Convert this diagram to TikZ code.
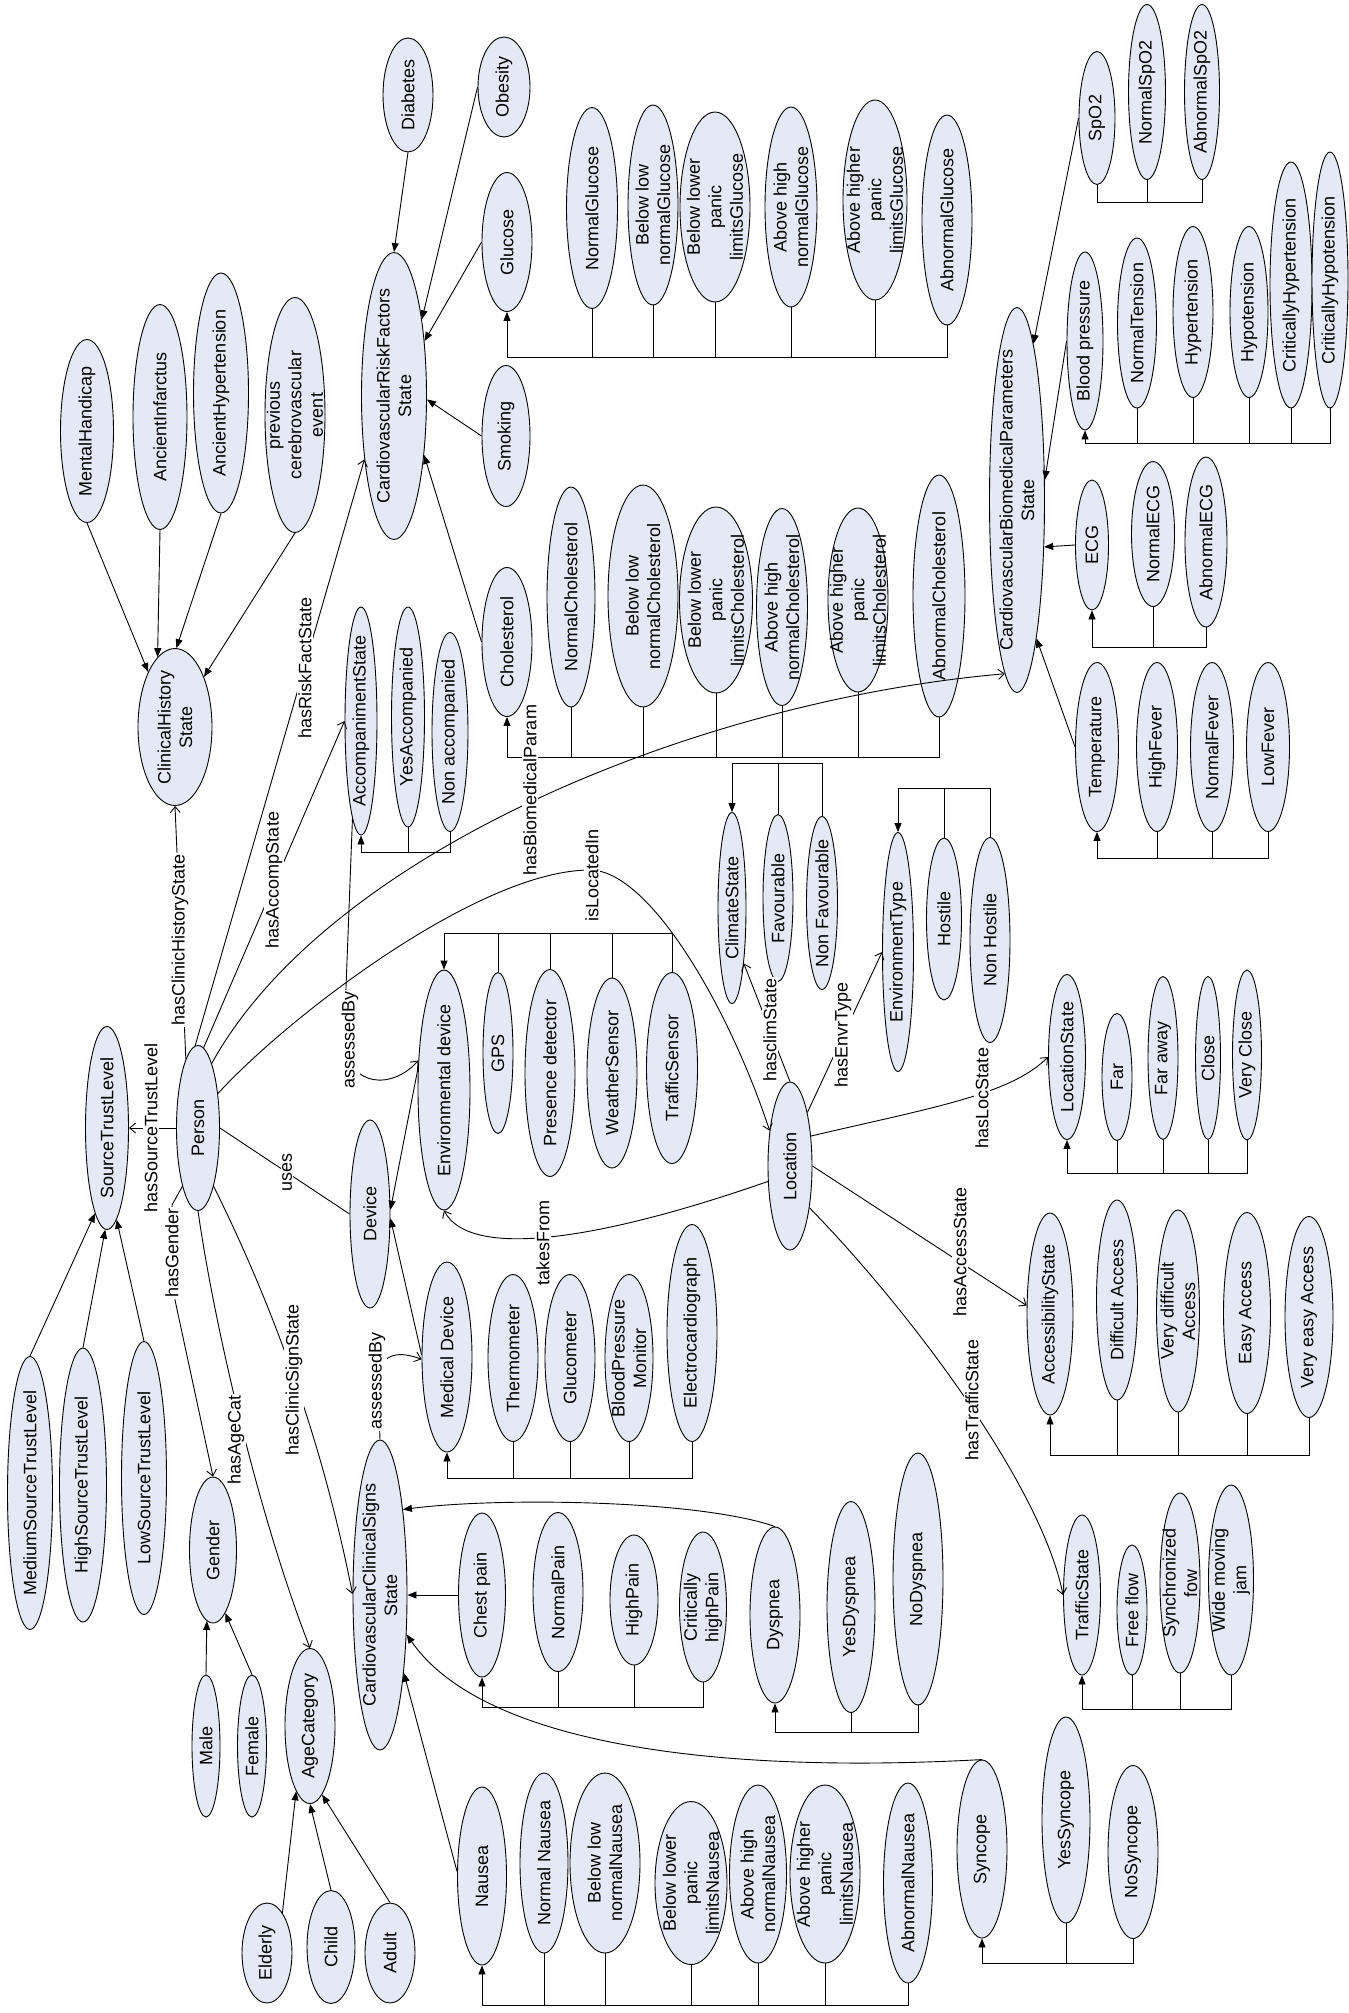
\documentclass[tikz,border=0pt]{standalone}
\usepackage{fontspec}
\setmainfont{Liberation Sans}
\usetikzlibrary{arrows.meta,shapes.geometric,calc}
\definecolor{nfill}{RGB}{228,233,245}
\newcommand\mkel[6]{\node[elp,minimum width=#4pt,minimum height=#5pt](#1) at (#2,#3){};\node[txt] at (#2,#3){#6};}
\begin{document}
\begin{tikzpicture}[x=1pt,y=-1pt,line width=0.9pt,
  elp/.style={ellipse,draw,fill=nfill,inner sep=0pt},
  txt/.style={rotate=90,align=center,inner sep=0pt,font=\fontsize{18}{21.5}\selectfont},
  lab/.style={rotate=90,fill=white,inner sep=1.2pt,font=\fontsize{18}{21.5}\selectfont},
  tri/.style={-{Triangle[length=9pt,width=7pt]}},
  opn/.style={-{Straight Barb[length=6pt,width=10pt]}}]
\fill[white] (0,0) rectangle (1349,2013);
\useasboundingbox (0,0) rectangle (1349,2013);
% ---------- nodes ----------
\mkel{crf}{394}{396}{65}{287}{CardiovascularRiskFactors\\State}
\mkel{dia}{408}{95}{50}{114}{Diabetes}
\mkel{mh}{87}{431}{53}{183}{MentalHandicap}
\mkel{ai}{160}{417}{54}{225}{AncientInfarctus}
\mkel{ah}{221}{393}{55}{240}{AncientHypertension}
\mkel{pce}{295}{415}{60}{235}{previous\\cerebrovascular\\event}
\mkel{chs}{175}{727}{74}{157}{ClinicalHistory\\State}
\mkel{obe}{504}{87}{52}{100}{Obesity}
\mkel{glu}{507}{242}{50}{139}{Glucose}
\mkel{smo}{506}{436}{48}{141}{Smoking}
\mkel{nglu}{592}{208}{51}{201}{NormalGlucose}
\mkel{blglu}{653}{205}{50}{200}{Below low\\normalGlucose}
\mkel{blpglu}{715}{207}{70}{190}{Below lower\\panic\\limitsGlucose}
\mkel{ahglu}{791}{207}{52}{200}{Above high\\normalGlucose}
\mkel{ahpglu}{875}{200}{64}{200}{Above higher\\panic\\limitsGlucose}
\mkel{aglu}{947}{220}{50}{210}{AbnormalGlucose}
\mkel{spo}{1097}{118}{36}{133}{SpO2}
\mkel{nspo}{1147}{92}{37}{175}{NormalSpO2}
\mkel{aspo}{1202}{92}{35}{175}{AbnormalSpO2}
\mkel{cbp}{1017}{500}{55}{385}{CardiovascularBiomedicalParameters\\State}
\mkel{bp}{1085}{341}{36}{178}{Blood pressure}
\mkel{nten}{1137}{323}{39}{170}{NormalTension}
\mkel{hyper}{1193}{312}{40}{171}{Hypertension}
\mkel{hypo}{1249}{312}{38}{171}{Hypotension}
\mkel{chyper}{1291}{285}{42}{246}{CriticallyHypertension}
\mkel{chypo}{1330}{280}{36}{256}{CriticallyHypotension}
\mkel{ecg}{1092}{545}{33}{130}{ECG}
\mkel{necg}{1153}{534}{43}{145}{NormalECG}
\mkel{aecg}{1206}{542}{42}{170}{AbnormalECG}
\mkel{temp}{1097}{747}{43}{169}{Temperature}
\mkel{hf}{1157}{747}{41}{169}{HighFever}
\mkel{nf}{1212}{747}{43}{169}{NormalFever}
\mkel{lf}{1268}{747}{43}{169}{LowFever}
\mkel{chol}{507}{642}{50}{149}{Cholesterol}
\mkel{nchol}{571}{597}{48}{220}{NormalCholesterol}
\mkel{blchol}{643}{596}{70}{222}{Below low\\normalCholesterol}
\mkel{blpchol}{716}{600}{73}{186}{Below lower\\panic\\limitsCholesterol}
\mkel{ahchol}{782}{607}{51}{197}{Above high\\normalCholesterol}
\mkel{ahpchol}{858}{600}{60}{184}{Above higher\\panic\\limitsCholesterol}
\mkel{achol}{939}{596}{52}{242}{AbnormalCholesterol}
\mkel{acc}{361}{721}{32}{228}{AccompanimentState}
\mkel{yacc}{408}{717}{33}{220}{YesAccompanied}
\mkel{nacc}{450}{732}{36}{199}{Non accompanied}
\mkel{clim}{732}{908}{28}{191}{ClimateState}
\mkel{fav}{778}{898}{30}{167}{Favourable}
\mkel{nfav}{822}{903}{31}{173}{Non Favourable}
\mkel{envt}{898}{952}{31}{239}{EnvironmentType}
\mkel{host}{944}{919}{35}{162}{Hostile}
\mkel{nhost}{990}{940}{40}{205}{Non Hostile}
\mkel{envd}{444}{1090}{52}{240}{Environmental device}
\mkel{gps}{498}{1053}{30}{161}{GPS}
\mkel{pres}{550}{1073}{50}{207}{Presence detector}
\mkel{wsen}{612}{1073}{50}{190}{WeatherSensor}
\mkel{tsen}{672}{1068}{51}{191}{TrafficSensor}
\mkel{loc}{790}{1166}{44}{168}{Location}
\mkel{md}{447}{1357}{50}{190}{Medical Device}
\mkel{therm}{513}{1358}{50}{167}{Thermometer}
\mkel{gluc}{570}{1358}{50}{167}{Glucometer}
\mkel{bpm}{629}{1358}{48}{167}{BloodPressure\\Monitor}
\mkel{ecgr}{692}{1333}{50}{217}{Electrocardiograph}
\mkel{stl}{107}{1128}{43}{203}{SourceTrustLevel}
\mkel{per}{198}{1128}{43}{165}{Person}
\mkel{dev}{370}{1214}{40}{188}{Device}
\mkel{mstl}{30}{1493}{45}{273}{MediumSourceTrustLevel}
\mkel{hstl}{83}{1485}{47}{274}{HighSourceTrustLevel}
\mkel{lstl}{144}{1478}{45}{273}{LowSourceTrustLevel}
\mkel{gen}{213}{1550}{47}{146}{Gender}
\mkel{male}{206}{1746}{28}{142}{Male}
\mkel{fem}{252}{1746}{29}{142}{Female}
\mkel{agec}{310}{1726}{50}{155}{AgeCategory}
\mkel{eld}{267}{1953}{50}{100}{Elderly}
\mkel{chi}{331}{1947}{48}{113}{Child}
\mkel{adu}{390}{1953}{50}{100}{Adult}
\mkel{ccs}{380}{1595}{54}{310}{CardiovascularClinicalSigns\\State}
\mkel{cp}{482}{1595}{47}{164}{Chest pain}
\mkel{npain}{558}{1592}{50}{159}{NormalPain}
\mkel{hpain}{634}{1600}{48}{130}{HighPain}
\mkel{chpain}{703}{1607}{47}{150}{Critically\\highPain}
\mkel{dys}{775}{1615}{50}{176}{Dyspnea}
\mkel{ydys}{851}{1607}{48}{211}{YesDyspnea}
\mkel{ndys}{918}{1579}{50}{252}{NoDyspnea}
\mkel{nau}{482}{1876}{49}{178}{Nausea}
\mkel{nnau}{544}{1863}{48}{180}{Normal Nausea}
\mkel{blnau}{605}{1863}{70}{180}{Below low\\normalNausea}
\mkel{blpnau}{691}{1883}{72}{163}{Below lower\\panic\\limitsNausea}
\mkel{ahnau}{758}{1874}{57}{178}{Above high\\normalNausea}
\mkel{ahpnau}{825}{1874}{70}{178}{Above higher\\panic\\limitsNausea}
\mkel{anau}{908}{1883}{49}{200}{AbnormalNausea}
\mkel{syn}{982}{1849}{50}{178}{Syncope}
\mkel{ysyn}{1066}{1820}{48}{206}{YesSyncope}
\mkel{nsyn}{1133}{1852}{50}{173}{NoSyncope}
\mkel{ts}{1082}{1595}{37}{160}{TrafficState}
\mkel{ff}{1132}{1610}{30}{130}{Free flow}
\mkel{sf}{1180}{1583}{40}{180}{Synchronized\\fow}
\mkel{wmj}{1231}{1580}{45}{190}{Wide moving\\jam}
\mkel{locst}{1067}{1057}{37}{165}{LocationState}
\mkel{far}{1117}{1077}{30}{127}{Far}
\mkel{fara}{1163}{1058}{30}{163}{Far away}
\mkel{clo}{1208}{1058}{25}{163}{Close}
\mkel{vclo}{1247}{1055}{29}{170}{Very Close}
\mkel{accs}{1050}{1314}{46}{202}{AccessibilityState}
\mkel{dacc}{1117}{1300}{41}{200}{Difficult Access}
\mkel{vdacc}{1178}{1311}{43}{202}{Very difficult\\Access}
\mkel{eacc}{1247}{1313}{47}{201}{Easy Access}
\mkel{veacc}{1309}{1317}{48}{201}{Very easy Access}
% ---------- bus levels ----------
\coordinate (bGlu) at (0,357);
\coordinate (bSp) at (0,202);
\coordinate (bBP) at (0,443);
\coordinate (bECG) at (0,647);
\coordinate (bTmp) at (0,858);
\coordinate (bCh) at (0,757);
\coordinate (bAcc) at (0,852);
\coordinate (bCl) at (0,763);
\coordinate (bEnv) at (0,788);
\coordinate (bED) at (0,933);
\coordinate (bMD) at (0,1478);
\coordinate (bLS) at (0,1173);
\coordinate (bAS) at (0,1455);
\coordinate (bTS) at (0,1709);
\coordinate (bPn) at (0,1707);
\coordinate (bDy) at (0,1732);
\coordinate (bNa) at (0,2005);
\coordinate (bSy) at (0,1963);
% ---------- buses (below) ----------
\draw[tri] (aglu.south) -- (aglu.south |- bGlu) -| (glu.south);
\foreach \n in {nglu,blglu,blpglu,ahglu,ahpglu} \draw (\n.south) -- (\n.south |- bGlu);
\draw (aspo.south) -- (aspo.south |- bSp) -| (spo.south);
\draw (nspo.south) -- (nspo.south |- bSp);
\draw[tri] (chypo.south) -- (chypo.south |- bBP) -| (bp.south);
\foreach \n in {nten,hyper,hypo,chyper} \draw (\n.south) -- (\n.south |- bBP);
\draw[tri] (aecg.south) -- (aecg.south |- bECG) -| (ecg.south);
\draw (necg.south) -- (necg.south |- bECG);
\draw[tri] (lf.south) -- (lf.south |- bTmp) -| (temp.south);
\foreach \n in {hf,nf} \draw (\n.south) -- (\n.south |- bTmp);
\draw[tri] (achol.south) -- (achol.south |- bCh) -| (chol.south);
\foreach \n in {nchol,blchol,blpchol,ahchol,ahpchol} \draw (\n.south) -- (\n.south |- bCh);
\draw[tri] (nacc.south) -- (nacc.south |- bAcc) -| (acc.south);
\draw (yacc.south) -- (yacc.south |- bAcc);
\draw[tri] (ecgr.south) -- (ecgr.south |- bMD) -| (md.south);
\foreach \n in {therm,gluc,bpm} \draw (\n.south) -- (\n.south |- bMD);
\draw[tri] (vclo.south) -- (vclo.south |- bLS) -| (locst.south);
\foreach \n in {far,fara,clo} \draw (\n.south) -- (\n.south |- bLS);
\draw[tri] (veacc.south) -- (veacc.south |- bAS) -| (accs.south);
\foreach \n in {dacc,vdacc,eacc} \draw (\n.south) -- (\n.south |- bAS);
\draw[tri] (wmj.south) -- (wmj.south |- bTS) -| (ts.south);
\foreach \n in {ff,sf} \draw (\n.south) -- (\n.south |- bTS);
\draw[tri] (chpain.south) -- (chpain.south |- bPn) -| (cp.south);
\foreach \n in {npain,hpain} \draw (\n.south) -- (\n.south |- bPn);
\draw[tri] (ndys.south) -- (ndys.south |- bDy) -| (dys.south);
\draw (ydys.south) -- (ydys.south |- bDy);
\draw[tri] (anau.south) -- (anau.south |- bNa) -| (nau.south);
\foreach \n in {nnau,blnau,blpnau,ahnau,ahpnau} \draw (\n.south) -- (\n.south |- bNa);
\draw[tri] (nsyn.south) -- (nsyn.south |- bSy) -| (syn.south);
\draw (ysyn.south) -- (ysyn.south |- bSy);
% ---------- buses (above) ----------
\draw[tri] (nfav.north) -- (nfav.north |- bCl) -| (clim.north);
\draw (fav.north) -- (fav.north |- bCl);
\draw[tri] (nhost.north) -- (nhost.north |- bEnv) -| (envt.north);
\draw (host.north) -- (host.north |- bEnv);
\draw[tri] (tsen.north) -- (tsen.north |- bED) -| (envd.north);
\foreach \n in {gps,pres,wsen} \draw (\n.north) -- (\n.north |- bED);
% ---------- subclass arrows ----------
\draw[tri] (mh.south) -- (chs.116);
\draw[tri] (ai.south) -- (chs.104);
\draw[tri] (ah.south) -- (chs.89);
\draw[tri] (pce.south) -- (chs.60);
\draw[tri] (dia.south) -- (crf.north);
\draw[tri] (obe.west) -- (crf.70);
\draw[tri] (glu.west) -- (crf.61);
\draw[tri] (smo.west) -- (crf.-6);
\draw[tri] (chol.west) -- (crf.-63);
\draw[tri] (spo.west) -- (cbp.84);
\draw[tri] (bp.west) -- (cbp.36);
\draw[tri] (ecg.west) -- (cbp.-60);
\draw[tri] (temp.west) -- (cbp.-82);
\draw[tri] (cp.west) -- (ccs.east);
\draw[tri] (dys.north) .. controls (700,1500) and (500,1497) .. (ccs.75);
\draw[tri] (syn.north) .. controls (700,1775) and (480,1740) .. (ccs.-56);
\draw[tri] (nau.170) -- (ccs.-73);
\draw[tri] (mstl.north) -- (stl.-98);
\draw[tri] (hstl.north) -- (stl.-91);
\draw[tri] (lstl.north) -- (stl.-84);
\draw[tri] (male.north) -- (gen.-95);
\draw[tri] (fem.north) -- (gen.-79);
\draw[tri] (eld.69) -- (agec.-102);
\draw[tri] (chi.north) -- (agec.-90);
\draw[tri] (adu.north) -- (agec.-80);
\draw[tri] (envd.140) -- (dev.12);
\draw[tri] (md.175) -- (dev.-12);
% ---------- property edges ----------
\draw[opn] (per.100) -- (chs.south);
\draw[opn] (per.92) -- (crf.245);
\draw[opn] (per.86) -- (acc.west);
\draw[opn] (per.78) .. controls (330,850) and (700,700) .. (cbp.266);
\draw[opn] (per.60) .. controls (290,1015) and (480,870) .. (590,870) .. controls (650,870) and (730,1010) .. (loc.120);
\draw[opn] (per.west) -- (stl.east);
\draw (per.east) -- (dev.west);
\draw[opn] (per.-105) -- (172,1205) -- (175,1300) -- (gen.north);
\draw[opn] (per.south) .. controls (215,1330) and (260,1520) .. (agec.north);
\draw[opn] (per.-75) .. controls (290,1340) and (330,1480) .. (ccs.178);
\draw[opn] (acc.-95) -- (344,1040) .. controls (348,1088) and (392,1090) .. (envd.131);
\draw[opn] (ccs.north) -- (378,1380) .. controls (380,1350) and (402,1352) .. (md.185);
\draw[opn] (loc.-145) .. controls (600,1240) and (470,1260) .. (envd.south);
\draw[opn] (loc.north) -- (clim.-78);
\draw[opn] (loc.72) -- (envt.west);
\draw[opn] (loc.55) .. controls (930,1108) and (1010,1095) .. (locst.west);
\draw[opn] (loc.east) -- (accs.160);
\draw[opn] (loc.-65) .. controls (900,1300) and (1040,1480) .. (ts.west);
% ---------- labels ----------
\node[lab] at (180,940) {hasClinicHistoryState};
\node[lab] at (151,1128) {hasSourceTrustLevel};
\node[lab] at (305,668) {hasRiskFactState};
\node[lab] at (274,880) {hasAccompState};
\node[lab] at (530,790) {hasBiomedicalParam};
\node[lab] at (592,875) {isLocatedIn};
\node[lab] at (350,1040) {assessedBy};
\node[lab] at (287,1172) {uses};
\node[lab] at (172,1253) {hasGender};
\node[lab] at (236,1440) {hasAgeCat};
\node[lab] at (294,1380) {hasClinicSignState};
\node[lab] at (377,1381) {assessedBy};
\node[lab] at (543,1243) {takesFrom};
\node[lab] at (770,1030) {hasclimState};
\node[lab] at (843,1035) {hasEnvrType};
\node[lab] at (982,1098) {hasLocState};
\node[lab] at (960,1252) {hasAccessState};
\node[lab] at (972,1400) {hasTrafficState};
\end{tikzpicture}
\end{document}
